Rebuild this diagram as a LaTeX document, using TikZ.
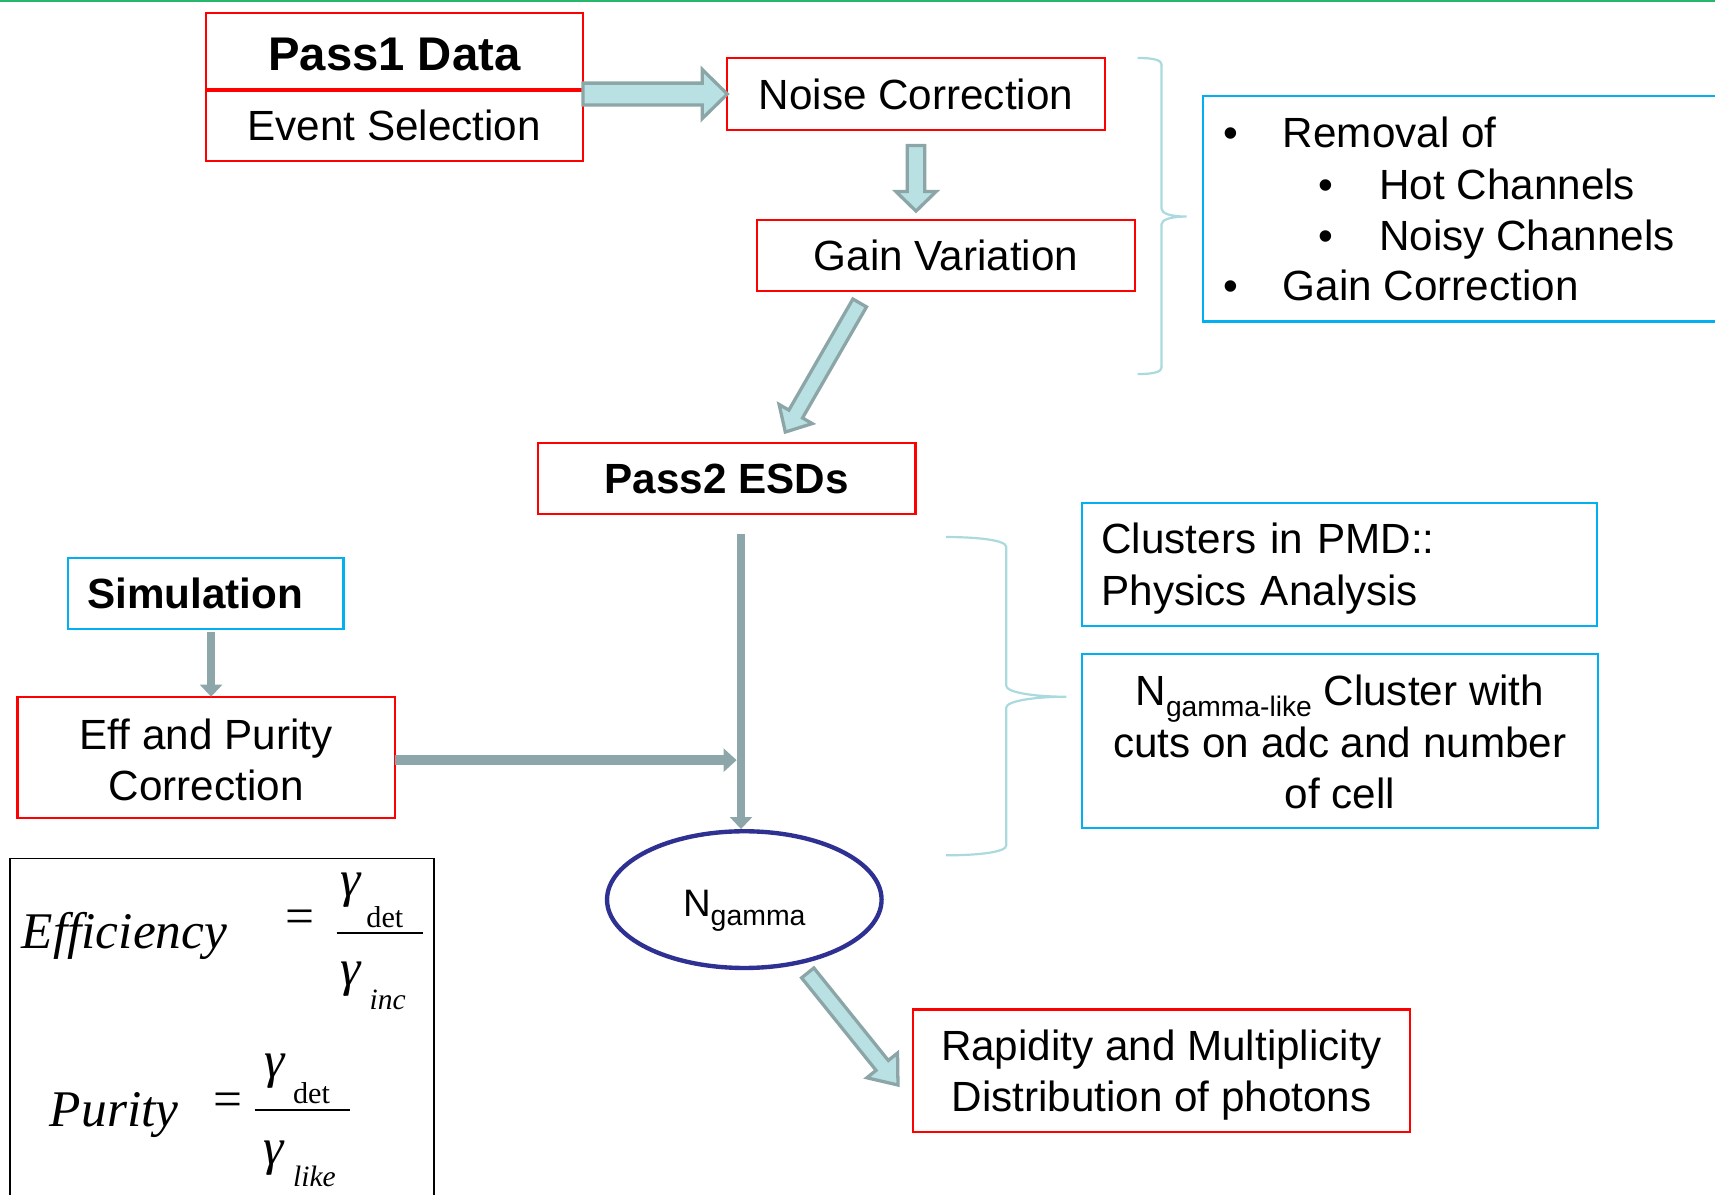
\documentclass[tikz,border=0pt]{standalone}
\usepackage{fontspec}
\setmainfont{Liberation Sans}
\newfontfamily\tnr{Liberation Serif}
\usetikzlibrary{calc,shapes.geometric,arrows.meta}
\definecolor{boxred}{RGB}{255,0,0}
\definecolor{boxblue}{RGB}{0,176,240}
\definecolor{navy}{RGB}{46,49,146}
\definecolor{arrfill}{RGB}{185,224,227}
\definecolor{arredge}{RGB}{140,166,168}
\definecolor{thinarr}{RGB}{141,166,169}
\definecolor{bracecol}{RGB}{170,218,222}
\definecolor{topgreen}{RGB}{38,183,108}
\newcommand\fsz[2]{\fontsize{#1}{#2}\selectfont}
% block arrow: #1 start, #2 tip, #3 shaft half width, #4 head half width, #5 head length
\newcommand\blockarrow[5]{%
  \coordinate (ba-base) at ($(#2)!#5!(#1)$);
  \draw[blockarr] ($(#1)!#3!90:(#2)$) -- ($(ba-base)!#3!-90:(#1)$) -- ($(ba-base)!#4!-90:(#1)$)
    -- (#2) -- ($(ba-base)!#4!90:(#1)$) -- ($(ba-base)!#3!90:(#1)$) -- ($(#1)!#3!-90:(#2)$) -- cycle;
}
\begin{document}
\begin{tikzpicture}[x=0.5pt,y=-0.5pt,
  redbox/.style={draw=boxred, line width=1pt, inner sep=0pt, outer sep=0pt, align=center, font=\fsz{19.3}{23.5}},
  bluebox/.style={draw=boxblue, line width=1pt, inner sep=0pt, outer sep=0pt, font=\fsz{19.3}{23.5}},
  txt/.style={inner sep=0pt, outer sep=0pt, font=\fsz{19.3}{23.5}},
  ftxt/.style={inner sep=0pt, outer sep=0pt, anchor=base west},
  thinarrow/.style={draw=thinarr, line width=4pt, -{Triangle[width=10pt,length=5.5pt]}},
  blockarr/.style={fill=arrfill, draw=arredge, line width=1.5pt, line join=miter},
  bracepath/.style={draw=bracecol, line width=1pt},
]
\useasboundingbox (0,0) rectangle (1568,1092);
\draw[topgreen, line width=1pt] (0,1) -- (1568,1);

% boxes
\node[redbox, minimum width=172.5pt, minimum height=35pt, font=\bfseries\fsz{21.6}{26}] (pass1top) at (360.5,47) {\rule{0pt}{17.5pt}Pass1 Data};
\node[redbox, minimum width=172.5pt, minimum height=32.5pt] (pass1bot) at (360.5,114.5) {Event Selection};
\draw[boxred, line width=2pt] (pass1top.south west) -- (pass1top.south east);
\node[redbox, minimum width=172.5pt, minimum height=33pt] (noise) at (837.5,86) {Noise Correction};
\node[redbox, minimum width=173pt, minimum height=32.5pt] (gain) at (865,233.5) {Gain Variation};
\node[redbox, minimum width=172.5pt, minimum height=32.5pt, font=\bfseries\fsz{19.3}{23.5}] (pass2) at (664.5,437.5) {Pass2 ESDs};
\node[bluebox, text width=108pt, inner xsep=9pt, minimum height=32.5pt, align=left, font=\bfseries\fsz{19.3}{23.5}] (sim) at (188,542.5) {Simulation};
\node[redbox, minimum width=172.5pt, minimum height=55.5pt] (eff) at (188.5,692.5) {\rule{0pt}{16pt}Eff and Purity\\Correction};
\node[bluebox, text width=217.5pt, inner xsep=9pt, minimum height=56pt, align=left] (clusters) at (1224.5,516) {\rule{0pt}{18pt}Clusters in PMD::\\Physics Analysis};
\node[bluebox, minimum width=236pt, minimum height=79.5pt, align=center] (ngl) at (1225,677.5)
  {\rule{0pt}{15pt}N\raisebox{-4.7pt}{\fsz{12.9}{15}gamma-like} Cluster with\\cuts on adc and number\\of cell};
\node[redbox, minimum width=227pt, minimum height=56pt] (rap) at (1062,979) {\rule{0pt}{18pt}Rapidity and Multiplicity\\Distribution of photons};
\node[draw=navy, line width=2pt, ellipse, minimum width=125.5pt, minimum height=62.5pt, inner sep=0pt, text height=15pt, text depth=0pt] (ngamma) at (680.5,822.5)
  {\fsz{17.5}{20}N\raisebox{-4.5pt}{\fsz{13}{15}gamma}};

% list box
\node[bluebox, minimum width=262pt, minimum height=103pt, anchor=west] (listbox) at (1100,191) {};
\node[txt, anchor=base] (b1) at (1125,135) {•};
\node[txt, anchor=base west] (l1) at (1173,135) {Removal of};
\node[txt, anchor=base] (b2) at (1212,182) {•};
\node[txt, anchor=base west] (l2) at (1261,182) {Hot Channels};
\node[txt, anchor=base] (b3) at (1212,229) {•};
\node[txt, anchor=base west] (l3) at (1261,229) {Noisy Channels};
\node[txt, anchor=base] (b4) at (1125,275) {•};
\node[txt, anchor=base west] (l4) at (1173,275) {Gain Correction};

% braces
\draw[bracepath] (1040,53) .. controls (1055,53) and (1062,55) .. (1062,59) -- (1062,191)
  .. controls (1062,195) and (1070,198) .. (1085,198)
  .. controls (1070,198) and (1062,201) .. (1062,205) -- (1062,336)
  .. controls (1062,340) and (1055,342) .. (1040,342);
\draw[bracepath] (865,491) .. controls (895,491) and (920,494) .. (920,500) -- (920,627)
  .. controls (920,633) and (945,637) .. (975,637)
  .. controls (945,637) and (920,641) .. (920,647) -- (920,773)
  .. controls (920,779) and (895,782) .. (865,782);

% block arrows
\coordinate (a1s) at (pass1bot.north east |- noise.west);
\blockarrow{a1s}{noise.west}{5pt}{11.25pt}{11.5pt}
\coordinate (a2s) at ($(noise.south)+(0,14)$);
\coordinate (a2e) at ($(noise.south |- gain.north)+(0,-8)$);
\blockarrow{a2s}{a2e}{4pt}{9.25pt}{9pt}
\coordinate (a3s) at ($(gain.south west)+(94,11)$);
\coordinate (a3e) at ($(pass2.north)+(53.5,-10)$);
\blockarrow{a3s}{a3e}{3.6pt}{8.75pt}{9.5pt}
\coordinate (a4s) at ($(ngamma.center)+(58,67)$);
\coordinate (a4e) at ($(rap.west)+(-14,13)$);
\blockarrow{a4s}{a4e}{3.6pt}{9pt}{11.5pt}

% thin arrows
\draw[thinarrow] ($(sim.south)+(5,3)$) -- ($(sim.south |- eff.north)+(5,0)$);
\coordinate (vtop) at ($(ngamma.north |- pass2.south)+(-3,18)$);
\coordinate (vbot) at ($(ngamma.north)+(-3,0)$);
\coordinate (join) at ($(vbot |- eff.east)+(-4,2.5)$);
\draw[thinarrow, line width=4.5pt, -{Triangle[width=10.5pt,length=6pt]}] ($(eff.east)+(0,2.5)$) -- (join);
\draw[thinarrow] (vtop) -- (vbot);

% formula box
\node[draw=black, line width=0.8pt, minimum width=194pt, minimum height=170pt, anchor=north west, inner sep=0pt] (fbox) at (8,784) {};
\node[ftxt, font=\tnr\itshape\fsz{23.5}{28}] (effw) at (19.8,867) {Ef\kern0pt f\kern0pt iciency};
\node[inner sep=0pt, font=\tnr\fsz{23.5}{28}] (eq1) at (274,843) {=};
\draw[line width=1pt] (307.8,853.3) -- (387,853.3);
\node[ftxt, font=\tnr\itshape\fsz{23.5}{28}] (g1) at (311,820) {γ};
\node[ftxt, font=\tnr\fsz{13.8}{16}] (d1) at (335,848) {det};
\node[ftxt, font=\tnr\itshape\fsz{23.5}{28}] (g2) at (311,901) {γ};
\node[ftxt, font=\tnr\itshape\fsz{13.5}{16}] (i1) at (338,923) {inc};
\node[ftxt, font=\tnr\itshape\fsz{23.5}{28}] (purw) at (45.7,1030) {Purity};
\node[inner sep=0pt, font=\tnr\fsz{23.5}{28}] (eq2) at (208,1010) {=};
\draw[line width=1pt] (233,1015) -- (320,1015);
\node[ftxt, font=\tnr\itshape\fsz{23.5}{28}] (g3) at (242,985) {γ};
\node[ftxt, font=\tnr\fsz{13.8}{16}] (d2) at (268,1008.6) {det};
\node[ftxt, font=\tnr\itshape\fsz{23.5}{28}] (g4) at (241,1065) {γ};
\node[ftxt, font=\tnr\itshape\fsz{13.5}{16}] (k1) at (268,1085) {like};
\end{tikzpicture}
\end{document}
